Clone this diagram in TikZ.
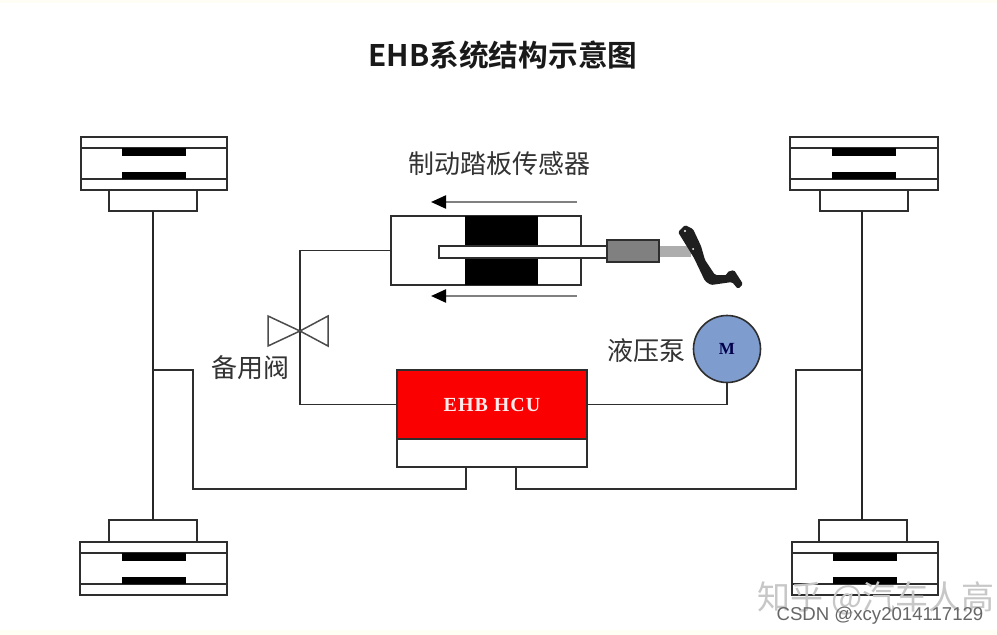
\documentclass[tikz,border=0pt]{standalone}
\usepackage{fontspec}
\setmainfont{Liberation Serif}
\setsansfont{Liberation Sans}
\newfontfamily\cjk{Noto Sans CJK SC}
\newfontfamily\cjkb{Noto Sans CJK SC Bold}
\usetikzlibrary{arrows.meta}
\definecolor{ink}{HTML}{2E2E2E}
\definecolor{labelink}{HTML}{333333}
\definecolor{pumpblue}{HTML}{7F9CCF}
\definecolor{hcured}{HTML}{FA0000}
\tikzset{
  box/.style={draw=ink,line width=1.6pt,fill=white,inner sep=0pt,outer sep=0pt,anchor=north west},
  pad/.style={fill=black,draw=none,inner sep=0pt,outer sep=0pt,anchor=north west,minimum width=64pt,minimum height=7.5pt},
  wire/.style={draw=ink,line width=1.8pt},
  shaft/.style={draw=black!85,line width=2.4pt},
  slat/.style={draw=ink,line width=1.5pt},
  flow/.style={draw=black!50,line width=2.2pt,-{Triangle[length=15pt,width=13pt,black]}},
  label/.style={font=\cjk\fontsize{26}{28}\selectfont,text=labelink,inner sep=0pt},
}
% x y of the top-left corner of the outer body, width, name prefix
\newcommand{\brakebody}[4]{%
  \node[box,minimum width=#3pt,minimum height=53pt] (#4) at (#1,#2) {};
  \draw[slat] ([yshift=-11pt]#4.north west) -- ([yshift=-11pt]#4.north east);
  \draw[slat] ([yshift=11pt]#4.south west) -- ([yshift=11pt]#4.south east);
  \node[pad] (#4p1) at ([xshift=-32pt,yshift=-11pt]#4.north) {};
  \node[pad] (#4p2) at ([xshift=-32pt,yshift=18.5pt]#4.south) {};
}
\begin{document}
\begin{tikzpicture}[x=1pt,y=-1pt]
\useasboundingbox (0,0) rectangle (997,635);
\fill[white] (0,0) rectangle (997,635);
\fill[yellow!4] (0,630) rectangle (997,635);
\fill[yellow!4] (0,0) rectangle (997,3);

% title
\node[font=\cjkb\fontsize{29.7}{32}\selectfont,text=black!90,inner sep=0pt] (title) at (503,55) {EHB系统结构示意图};

% brakes
\brakebody{81}{137}{146}{tl}
\node[box,minimum width=88pt,minimum height=21pt] (tlb) at (109,190) {};
\brakebody{80}{542}{147}{bl}
\node[box,minimum width=88pt,minimum height=22pt] (blb) at (109,520) {};
\brakebody{790}{137}{148}{tr}
\node[box,minimum width=88pt,minimum height=21pt] (trb) at (820,190) {};
\brakebody{792}{542}{146}{br}
\node[box,minimum width=88pt,minimum height=22pt] (brb) at (819,520) {};

% axles
\coordinate (s1) at (862,211);
\coordinate (s2) at (862,520);
\draw[shaft] (tlb.south) -- (blb.north);
\draw[shaft] (s1) -- (s2);

% HCU
\node[box,draw=ink,fill=hcured,minimum width=190pt,minimum height=69pt,text=red!8!white,font=\bfseries\fontsize{20}{22}\selectfont\addfontfeature{LetterSpace=5}] (hcu) at (397,370) {\raisebox{-1.5pt}{EHB HCU}};
\node[box,minimum width=190pt,minimum height=28pt] (hcub) at (397,439) {};
\coordinate (portl) at (466,467);
\coordinate (portr) at (516,467);
\coordinate (jl) at (153,370);
\coordinate (jr) at (862,370);
\draw[wire] (jl) -- (193,370) -- (193,489) -- (466,489) -- (portl);
\draw[wire] (jr) -- (796,370) -- (796,489) -- (516,489) -- (portr);

% cylinder
\node[box,minimum width=190pt,minimum height=69pt] (cyl) at (391,216) {};
\node[fill=black,inner sep=0pt,outer sep=0pt,anchor=north west,minimum width=73pt,minimum height=69pt] (piston) at (465,216) {};
\node[box,minimum width=168pt,minimum height=12pt] (rod) at (439,246) {};
\node[fill=black!32,inner sep=0pt,outer sep=0pt,anchor=north west,minimum width=32pt,minimum height=11pt] (link) at (659,246) {};
\node[box,fill=black!50,minimum width=52pt,minimum height=22pt] (sensor) at (607,240) {};

% pedal
\fill[black!88,rounded corners=1.5pt] (678,232) -- (685,225) -- (693,229) -- (701,246) -- (705,260) -- (715,275) -- (727,275) -- (727,272) -- (734,270) -- (743,284) -- (738,289) -- (732,282) -- (711,285) -- (705,281) -- (694,258) -- cycle;
\fill[white] (685,231) circle (1.2);
\fill[white] (693,249) circle (1.0);

% arrows
\coordinate (a1s) at (577,202);
\coordinate (a1e) at (431,202);
\coordinate (a2s) at (577,296);
\coordinate (a2e) at (431,296);
\draw[flow] (a1s) -- (a1e);
\draw[flow] (a2s) -- (a2e);

% pump
\node[draw=ink,line width=1.6pt,fill=pumpblue,circle,minimum size=67pt,inner sep=0pt,outer sep=0pt,text=blue!30!black,font=\bfseries\fontsize{17}{19}\selectfont] (motor) at (727,349) {M};

% hydraulic lines
\coordinate (vc) at (300,331);
\draw[wire] (hcu.west) -- (300,404.5) -- (vc) -- (300,250.5) -- (cyl.west);
\draw[wire] (hcu.east) -- (727,404.5) -- (motor.south);

% valve
\coordinate (v1) at (268,316);
\coordinate (v2) at (268,346);
\coordinate (v3) at (328,316);
\coordinate (v4) at (328,346);
\draw[draw=black!70,line width=1.5pt,line join=miter] (vc) -- (v1) -- (v2) -- cycle;
\draw[draw=black!70,line width=1.5pt,line join=miter] (vc) -- (v3) -- (v4) -- cycle;

% labels
\node[label] (lsensor) at (499,164) {制动踏板传感器};
\node[label] (lvalve) at (250,368) {备用阀};
\node[label] (lpump) at (646,351) {液压泵};

% watermarks
\node[font=\cjk\fontsize{33}{35}\selectfont,text=black!22,inner sep=0pt] (wm1) at (876,598) {知乎 @汽车人高};
\node[font=\sffamily\fontsize{18.6}{20}\selectfont,text=black!60,inner sep=0pt] (wm2) at (880,616) {CSDN @xcy2014117129};
\end{tikzpicture}
\end{document}
